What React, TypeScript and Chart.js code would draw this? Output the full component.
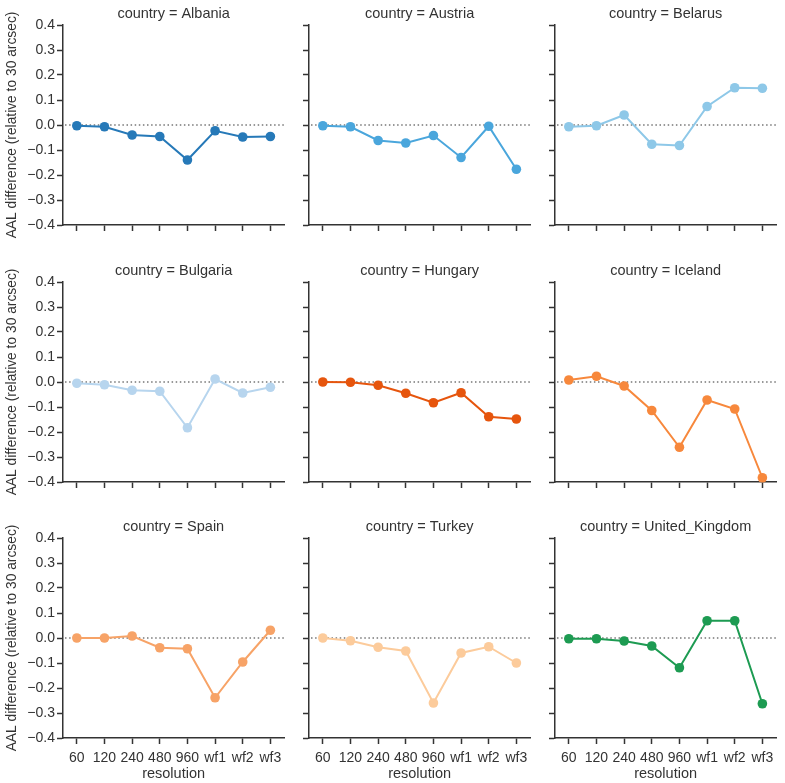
import React, { useEffect, useRef } from "react";
import { Chart, registerables } from "chart.js";

Chart.register(...registerables);

const resolutions = ["60", "120", "240", "480", "960", "wf1", "wf2", "wf3"];
const yTickValues = [-0.4, -0.3, -0.2, -0.1, 0, 0.1, 0.2, 0.3, 0.4];

const countries = [
  "Albania",
  "Austria",
  "Belarus",
  "Bulgaria",
  "Hungary",
  "Iceland",
  "Spain",
  "Turkey",
  "United_Kingdom",
];

const albania = [-0.003, -0.007, -0.04, -0.046, -0.14, -0.023, -0.048, -0.046];
const austria = [-0.003, -0.007, -0.062, -0.072, -0.042, -0.13, -0.005, -0.177];
const belarus = [-0.007, -0.003, 0.04, -0.077, -0.082, 0.074, 0.149, 0.147];
const bulgaria = [-0.005, -0.011, -0.033, -0.037, -0.183, 0.012, -0.044, -0.021];
const hungary = [0.0, -0.001, -0.013, -0.045, -0.083, -0.043, -0.139, -0.148];
const iceland = [0.008, 0.023, -0.016, -0.114, -0.261, -0.072, -0.108, -0.383];
const spain = [0.0, 0.0, 0.008, -0.039, -0.043, -0.239, -0.096, 0.031];
const turkey = [0.0, -0.011, -0.037, -0.052, -0.26, -0.06, -0.035, -0.1];
const unitedKingdom = [-0.003, -0.003, -0.012, -0.032, -0.119, 0.069, 0.069, -0.263];

const seriesList = [albania, austria, belarus, bulgaria, hungary, iceland, spain, turkey, unitedKingdom];

const colors = [
  "#2679b8",
  "#4aa6dc",
  "#8ec8e8",
  "#b7d5ee",
  "#e6550d",
  "#f7883c",
  "#f7a367",
  "#fccb9b",
  "#1d9b52",
];

const FONT = "'Liberation Sans', Arial, sans-serif";
const AXIS_COLOR = "#333333";
const TEXT_COLOR = "#333333";

const AREA_LEFT = [63, 309, 555];
const AREA_TOP = [25, 282, 538];
const AREA_W = 224;
const AREA_H = 200;
const PAD_TOP = 25;

function formatTick(v: number): string {
  const s = v.toFixed(1);
  return s.startsWith("-") ? "\u2212" + s.slice(1) : s;
}

const zeroLinePlugin = {
  id: "zeroLine",
  beforeDatasetsDraw(chart: any) {
    const { ctx, chartArea, scales } = chart;
    const y = scales.y.getPixelForValue(0);
    ctx.save();
    ctx.strokeStyle = "#777777";
    ctx.lineWidth = 1.5;
    ctx.setLineDash([1.5, 2.6]);
    ctx.beginPath();
    ctx.moveTo(chartArea.left + 2, y);
    ctx.lineTo(chartArea.right, y);
    ctx.stroke();
    ctx.restore();
  },
};

const panelTitlePlugin = {
  id: "panelTitle",
  afterDraw(chart: any, _args: any, opts: any) {
    const { ctx, chartArea } = chart;
    ctx.save();
    ctx.fillStyle = TEXT_COLOR;
    ctx.font = `14.5px ${FONT}`;
    ctx.textAlign = "center";
    ctx.textBaseline = "middle";
    ctx.fillText(opts.text, (chartArea.left + chartArea.right) / 2, chartArea.top - 11);
    ctx.restore();
  },
};

function Panel({ idx }: { idx: number }) {
  const ref = useRef<HTMLCanvasElement | null>(null);
  const row = Math.floor(idx / 3);
  const col = idx % 3;
  const showX = row === 2;
  const showY = col === 0;
  const yW = showY ? 63 : 12;
  const xH = showX ? 45 : 30;
  const width = yW + AREA_W + 2;
  const height = PAD_TOP + AREA_H + xH;
  const left = AREA_LEFT[col] - yW;
  const top = AREA_TOP[row] - PAD_TOP;

  useEffect(() => {
    if (!ref.current) return;
    const color = colors[idx];
    const chart = new Chart(ref.current, {
      type: "line",
      data: {
        labels: resolutions,
        datasets: [
          {
            data: seriesList[idx],
            borderColor: color,
            backgroundColor: color,
            borderWidth: 2,
            pointRadius: 4.8,
            pointHoverRadius: 4.8,
            pointBackgroundColor: color,
            pointBorderColor: color,
            pointBorderWidth: 0,
            tension: 0,
            clip: false,
          } as any,
        ],
      },
      options: {
        animation: false,
        responsive: false,
        maintainAspectRatio: false,
        events: [],
        layout: { padding: { top: PAD_TOP, left: 0, right: 2, bottom: 0 } },
        plugins: {
          legend: { display: false },
          tooltip: { enabled: false },
          title: { display: false },
          panelTitle: { text: `country = ${countries[idx]}` },
        } as any,
        scales: {
          x: {
            type: "category",
            offset: true,
            grid: {
              display: true,
              drawOnChartArea: false,
              drawTicks: true,
              tickLength: 6,
              tickColor: AXIS_COLOR,
              tickWidth: 1.5,
              offset: false,
            },
            border: { display: true, color: AXIS_COLOR, width: 1.5 },
            ticks: {
              display: showX,
              color: TEXT_COLOR,
              font: { family: FONT, size: 14 },
              padding: 6,
              maxRotation: 0,
              minRotation: 0,
              autoSkip: false,
            },
            title: {
              display: showX,
              text: "resolution",
              color: TEXT_COLOR,
              font: { family: FONT, size: 14.5 },
              padding: { top: 0, bottom: 0 },
            },
            afterFit(scale: any) {
              scale.height = xH;
            },
          },
          y: {
            type: "linear",
            min: -0.4,
            max: 0.4,
            afterBuildTicks(scale: any) {
              scale.ticks = yTickValues.map((v) => ({ value: v }));
            },
            grid: {
              display: true,
              drawOnChartArea: false,
              drawTicks: true,
              tickLength: 6,
              tickColor: AXIS_COLOR,
              tickWidth: 1.5,
            },
            border: { display: true, color: AXIS_COLOR, width: 1.5 },
            ticks: {
              display: showY,
              color: TEXT_COLOR,
              font: { family: FONT, size: 14 },
              padding: 2,
              callback: (v: any) => formatTick(Number(v)),
            },
            title: {
              display: showY,
              text: "AAL difference (relative to 30 arcsec)",
              color: TEXT_COLOR,
              font: { family: FONT, size: 13.8 },
              padding: { top: 4, bottom: 0 },
            },
            afterFit(scale: any) {
              scale.width = yW;
            },
          },
        },
      },
      plugins: [zeroLinePlugin, panelTitlePlugin],
    });
    return () => chart.destroy();
  }, [idx]);

  return (
    <canvas
      ref={ref}
      width={width}
      height={height}
      style={{ position: "absolute", left, top, width, height }}
    />
  );
}

export default function App() {
  return (
    <div
      style={{
        position: "absolute",
        left: 0,
        top: 0,
        width: 785,
        height: 783,
        background: "#ffffff",
        overflow: "hidden",
      }}
    >
      {countries.map((_, i) => (
        <Panel key={i} idx={i} />
      ))}
    </div>
  );
}
